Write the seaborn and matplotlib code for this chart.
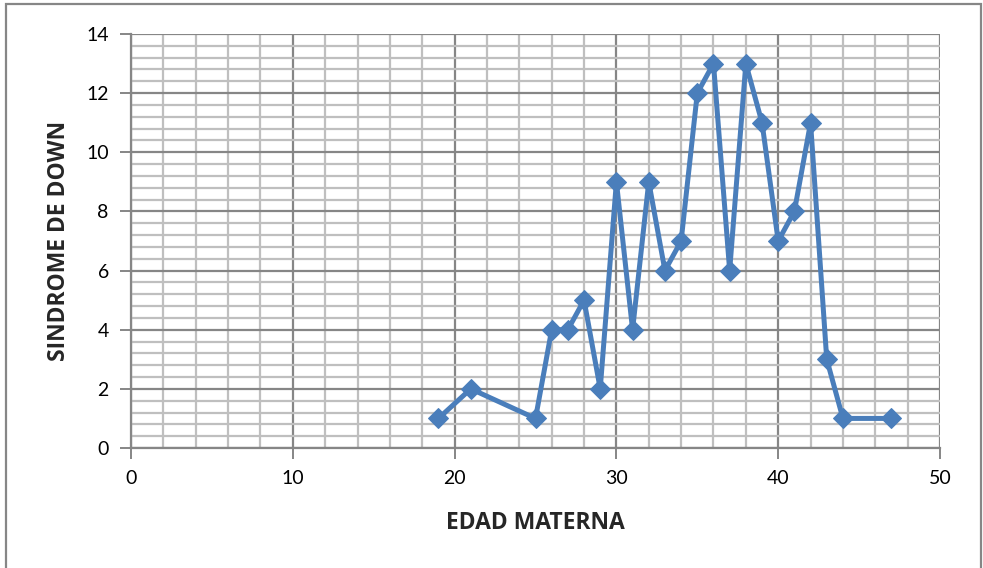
import matplotlib
matplotlib.use("Agg")
import matplotlib.pyplot as plt
import seaborn as sns
import numpy as np
import pandas as pd
from matplotlib.patches import Rectangle
from matplotlib.ticker import MultipleLocator

# Maternal age vs. number of Down syndrome cases
edad = [19, 21, 25, 26, 27, 28, 29, 30, 31, 32, 33, 34, 35, 36, 37, 38, 39, 40, 41, 42, 43, 44, 47]
casos = [1, 2, 1, 4, 4, 5, 2, 9, 4, 9, 6, 7, 12, 13, 6, 13, 11, 7, 8, 11, 3, 1, 1]
x_ticks = [0, 10, 20, 30, 40, 50]
y_ticks = [0, 2, 4, 6, 8, 10, 12, 14]

df = pd.DataFrame({"edad": edad, "casos": casos})

sns.set_theme(style="white")
plt.rcParams["font.family"] = ["Lato", "DejaVu Sans"]

W, H = 983, 568
fig = plt.figure(figsize=(W / 100, H / 100), dpi=100)
ax = fig.add_axes([131 / W, 1 - 448 / H, (940 - 131) / W, (448 - 34) / H])

blue = "#4A7EBB"
sns.lineplot(data=df, x="edad", y="casos", ax=ax, color=blue, linewidth=3.6,
             marker="D", markersize=10, markeredgecolor=blue, markerfacecolor=blue,
             sort=False, zorder=5)

ax.set_xlim(0, 50)
ax.set_ylim(0, 14)
ax.set_xticks(x_ticks)
ax.set_yticks(y_ticks)
ax.xaxis.set_minor_locator(MultipleLocator(2))
ax.yaxis.set_minor_locator(MultipleLocator(0.4))

ax.grid(which="minor", color="#BFBFBF", linewidth=1.6)
ax.grid(which="major", color="#868686", linewidth=1.6)
ax.set_axisbelow(True)

for side in ["top", "right"]:
    ax.spines[side].set_visible(False)
for side in ["left", "bottom"]:
    ax.spines[side].set_color("#868686")
    ax.spines[side].set_linewidth(1.6)

ax.tick_params(which="major", direction="out", length=8, width=1.4, color="#868686",
               labelsize=14, labelcolor="black", pad=8, bottom=True, left=True)
ax.tick_params(which="minor", length=0)

label_font = dict(family=["Open Sans", "DejaVu Sans"], fontsize=16.5, fontweight="bold")
ax.set_xlabel("EDAD MATERNA", labelpad=17, **label_font)
ax.set_ylabel("SINDROME DE DOWN", labelpad=11, **label_font)

# Outer chart frame
fig.patches.append(Rectangle((6 / W, -0.01), (981 - 6) / W, 1 - 4 / H + 0.01,
                             transform=fig.transFigure, fill=False,
                             edgecolor="#868686", linewidth=1.6))

fig.savefig("out.png", dpi=100)
